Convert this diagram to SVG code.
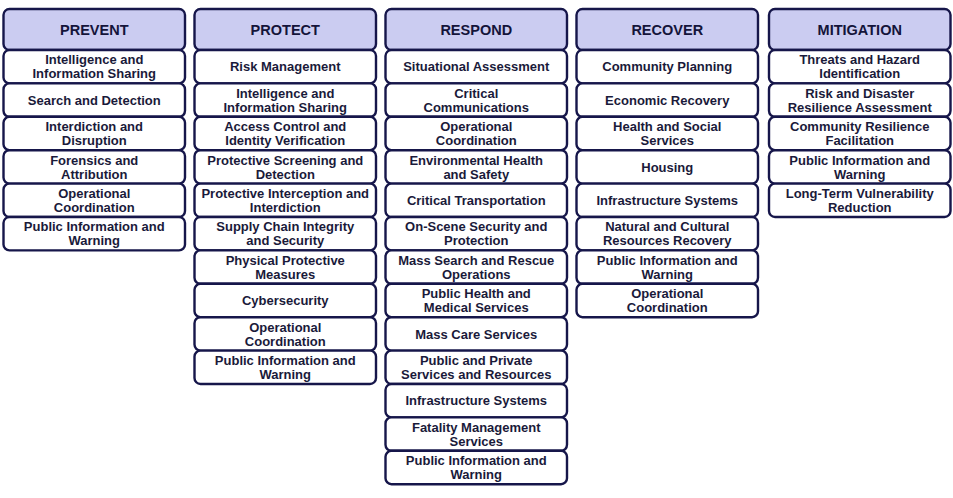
<svg xmlns="http://www.w3.org/2000/svg" width="953" height="498" viewBox="0 0 953 498">
<style>
.hd{fill:#cbccf1;stroke:#16164a;stroke-width:2.4}
.it{fill:#ffffff;stroke:#16164a;stroke-width:2.4}
.h{font-family:"Liberation Sans",Arial,sans-serif;font-weight:bold;font-size:14.5px;fill:#14143a;text-anchor:middle}
.t{font-family:"Liberation Sans",Arial,sans-serif;font-weight:bold;font-size:13px;fill:#1a1a3a;text-anchor:middle}
</style>
<rect width="953" height="498" fill="#ffffff"/>
<g id="prevent">
<rect class="hd" x="3.5" y="9" width="181.5" height="41" rx="6"/><text class="h" x="94.25" y="35">PREVENT</text>
<rect class="it" x="3.5" y="50" width="181.5" height="33.4" rx="6"/><text class="t" x="94.25" y="64.3">Intelligence and<tspan x="94.25" dy="14">Information Sharing</tspan></text>
<rect class="it" x="3.5" y="83.4" width="181.5" height="33.4" rx="6"/><text class="t" x="94.25" y="104.7">Search and Detection</text>
<rect class="it" x="3.5" y="116.8" width="181.5" height="33.4" rx="6"/><text class="t" x="94.25" y="131.1">Interdiction and<tspan x="94.25" dy="14">Disruption</tspan></text>
<rect class="it" x="3.5" y="150.2" width="181.5" height="33.4" rx="6"/><text class="t" x="94.25" y="164.5">Forensics and<tspan x="94.25" dy="14">Attribution</tspan></text>
<rect class="it" x="3.5" y="183.6" width="181.5" height="33.4" rx="6"/><text class="t" x="94.25" y="197.9">Operational<tspan x="94.25" dy="14">Coordination</tspan></text>
<rect class="it" x="3.5" y="217" width="181.5" height="33.4" rx="6"/><text class="t" x="94.25" y="231.3">Public Information and<tspan x="94.25" dy="14">Warning</tspan></text>
</g>
<g id="protect">
<rect class="hd" x="194.5" y="9" width="181.5" height="41" rx="6"/><text class="h" x="285.25" y="35">PROTECT</text>
<rect class="it" x="194.5" y="50" width="181.5" height="33.4" rx="6"/><text class="t" x="285.25" y="71.3">Risk Management</text>
<rect class="it" x="194.5" y="83.4" width="181.5" height="33.4" rx="6"/><text class="t" x="285.25" y="97.7">Intelligence and<tspan x="285.25" dy="14">Information Sharing</tspan></text>
<rect class="it" x="194.5" y="116.8" width="181.5" height="33.4" rx="6"/><text class="t" x="285.25" y="131.1">Access Control and<tspan x="285.25" dy="14">Identity Verification</tspan></text>
<rect class="it" x="194.5" y="150.2" width="181.5" height="33.4" rx="6"/><text class="t" x="285.25" y="164.5">Protective Screening and<tspan x="285.25" dy="14">Detection</tspan></text>
<rect class="it" x="194.5" y="183.6" width="181.5" height="33.4" rx="6"/><text class="t" x="285.25" y="197.9">Protective Interception and<tspan x="285.25" dy="14">Interdiction</tspan></text>
<rect class="it" x="194.5" y="217" width="181.5" height="33.4" rx="6"/><text class="t" x="285.25" y="231.3">Supply Chain Integrity<tspan x="285.25" dy="14">and Security</tspan></text>
<rect class="it" x="194.5" y="250.4" width="181.5" height="33.4" rx="6"/><text class="t" x="285.25" y="264.7">Physical Protective<tspan x="285.25" dy="14">Measures</tspan></text>
<rect class="it" x="194.5" y="283.8" width="181.5" height="33.4" rx="6"/><text class="t" x="285.25" y="305.1">Cybersecurity</text>
<rect class="it" x="194.5" y="317.2" width="181.5" height="33.4" rx="6"/><text class="t" x="285.25" y="331.5">Operational<tspan x="285.25" dy="14">Coordination</tspan></text>
<rect class="it" x="194.5" y="350.6" width="181.5" height="33.4" rx="6"/><text class="t" x="285.25" y="364.9">Public Information and<tspan x="285.25" dy="14">Warning</tspan></text>
</g>
<g id="respond">
<rect class="hd" x="385.5" y="9" width="181.5" height="41" rx="6"/><text class="h" x="476.25" y="35">RESPOND</text>
<rect class="it" x="385.5" y="50" width="181.5" height="33.4" rx="6"/><text class="t" x="476.25" y="71.3">Situational Assessment</text>
<rect class="it" x="385.5" y="83.4" width="181.5" height="33.4" rx="6"/><text class="t" x="476.25" y="97.7">Critical<tspan x="476.25" dy="14">Communications</tspan></text>
<rect class="it" x="385.5" y="116.8" width="181.5" height="33.4" rx="6"/><text class="t" x="476.25" y="131.1">Operational<tspan x="476.25" dy="14">Coordination</tspan></text>
<rect class="it" x="385.5" y="150.2" width="181.5" height="33.4" rx="6"/><text class="t" x="476.25" y="164.5">Environmental Health<tspan x="476.25" dy="14">and Safety</tspan></text>
<rect class="it" x="385.5" y="183.6" width="181.5" height="33.4" rx="6"/><text class="t" x="476.25" y="204.9">Critical Transportation</text>
<rect class="it" x="385.5" y="217" width="181.5" height="33.4" rx="6"/><text class="t" x="476.25" y="231.3">On-Scene Security and<tspan x="476.25" dy="14">Protection</tspan></text>
<rect class="it" x="385.5" y="250.4" width="181.5" height="33.4" rx="6"/><text class="t" x="476.25" y="264.7">Mass Search and Rescue<tspan x="476.25" dy="14">Operations</tspan></text>
<rect class="it" x="385.5" y="283.8" width="181.5" height="33.4" rx="6"/><text class="t" x="476.25" y="298.1">Public Health and<tspan x="476.25" dy="14">Medical Services</tspan></text>
<rect class="it" x="385.5" y="317.2" width="181.5" height="33.4" rx="6"/><text class="t" x="476.25" y="338.5">Mass Care Services</text>
<rect class="it" x="385.5" y="350.6" width="181.5" height="33.4" rx="6"/><text class="t" x="476.25" y="364.9">Public and Private<tspan x="476.25" dy="14">Services and Resources</tspan></text>
<rect class="it" x="385.5" y="384" width="181.5" height="33.4" rx="6"/><text class="t" x="476.25" y="405.3">Infrastructure Systems</text>
<rect class="it" x="385.5" y="417.4" width="181.5" height="33.4" rx="6"/><text class="t" x="476.25" y="431.7">Fatality Management<tspan x="476.25" dy="14">Services</tspan></text>
<rect class="it" x="385.5" y="450.8" width="181.5" height="33.4" rx="6"/><text class="t" x="476.25" y="465.1">Public Information and<tspan x="476.25" dy="14">Warning</tspan></text>
</g>
<g id="recover">
<rect class="hd" x="576.5" y="9" width="181.5" height="41" rx="6"/><text class="h" x="667.25" y="35">RECOVER</text>
<rect class="it" x="576.5" y="50" width="181.5" height="33.4" rx="6"/><text class="t" x="667.25" y="71.3">Community Planning</text>
<rect class="it" x="576.5" y="83.4" width="181.5" height="33.4" rx="6"/><text class="t" x="667.25" y="104.7">Economic Recovery</text>
<rect class="it" x="576.5" y="116.8" width="181.5" height="33.4" rx="6"/><text class="t" x="667.25" y="131.1">Health and Social<tspan x="667.25" dy="14">Services</tspan></text>
<rect class="it" x="576.5" y="150.2" width="181.5" height="33.4" rx="6"/><text class="t" x="667.25" y="171.5">Housing</text>
<rect class="it" x="576.5" y="183.6" width="181.5" height="33.4" rx="6"/><text class="t" x="667.25" y="204.9">Infrastructure Systems</text>
<rect class="it" x="576.5" y="217" width="181.5" height="33.4" rx="6"/><text class="t" x="667.25" y="231.3">Natural and Cultural<tspan x="667.25" dy="14">Resources Recovery</tspan></text>
<rect class="it" x="576.5" y="250.4" width="181.5" height="33.4" rx="6"/><text class="t" x="667.25" y="264.7">Public Information and<tspan x="667.25" dy="14">Warning</tspan></text>
<rect class="it" x="576.5" y="283.8" width="181.5" height="33.4" rx="6"/><text class="t" x="667.25" y="298.1">Operational<tspan x="667.25" dy="14">Coordination</tspan></text>
</g>
<g id="mitigation">
<rect class="hd" x="769" y="9" width="181.5" height="41" rx="6"/><text class="h" x="859.75" y="35">MITIGATION</text>
<rect class="it" x="769" y="50" width="181.5" height="33.4" rx="6"/><text class="t" x="859.75" y="64.3">Threats and Hazard<tspan x="859.75" dy="14">Identification</tspan></text>
<rect class="it" x="769" y="83.4" width="181.5" height="33.4" rx="6"/><text class="t" x="859.75" y="97.7">Risk and Disaster<tspan x="859.75" dy="14">Resilience Assessment</tspan></text>
<rect class="it" x="769" y="116.8" width="181.5" height="33.4" rx="6"/><text class="t" x="859.75" y="131.1">Community Resilience<tspan x="859.75" dy="14">Facilitation</tspan></text>
<rect class="it" x="769" y="150.2" width="181.5" height="33.4" rx="6"/><text class="t" x="859.75" y="164.5">Public Information and<tspan x="859.75" dy="14">Warning</tspan></text>
<rect class="it" x="769" y="183.6" width="181.5" height="33.4" rx="6"/><text class="t" x="859.75" y="197.9">Long-Term Vulnerability<tspan x="859.75" dy="14">Reduction</tspan></text>
</g>
<g id="connectors"></g>
</svg>
